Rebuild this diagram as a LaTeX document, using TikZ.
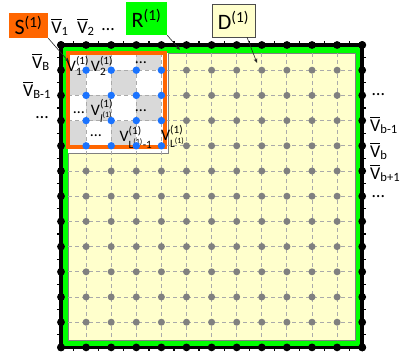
\documentclass[tikz,border=0pt]{standalone}
\usepackage{fontspec}
\usepackage{amsmath}
\setmainfont{Carlito}
\usetikzlibrary{arrows.meta,calc}
\definecolor{orangec}{HTML}{FF6600}
\definecolor{yellowfill}{HTML}{FFFFCC}
\definecolor{bluec}{HTML}{1A73FF}
\definecolor{checkgray}{HTML}{D9D9D9}
\definecolor{dotgray}{HTML}{808080}
\definecolor{dashgray}{HTML}{AAAAAA}
\definecolor{greenc}{HTML}{00FF00}
\newcommand{\Vb}[1]{$\overline{\text{V}}_{\text{#1}}$}
\newcommand{\Vs}[1]{V$^{\text{(1)}}_{#1}$}
\tikzset{
  gridline/.style={dashgray, line width=0.9pt, dash pattern=on 4pt off 3pt},
  graydot/.style={fill=dotgray},
  bluedot/.style={fill=bluec},
  blackdot/.style={fill=black},
  barlabel/.style={inner sep=0pt, font=\fontsize{18}{20}\selectfont},
  innerlabel/.style={inner sep=0pt, font=\fontsize{16}{18}\selectfont},
  boxlabel/.style={inner sep=0pt, font=\fontsize{22}{24}\selectfont},
  arr/.style={draw=black!85, line width=0.6pt, -{Stealth[length=4.5pt,width=3.5pt]}}
}
\begin{document}
\begin{tikzpicture}[x=1pt,y=-1pt]
\useasboundingbox (0,0) rectangle (403,355);
\def\gx{25.1}\def\gy{25.2}
\coordinate (TL) at (61,45);
\coordinate (BR) at (362.2,347.4);
% green band and yellow region
\fill[greenc] (TL) rectangle (BR);
\fill[yellowfill] (68,53) rectangle (355,340);
\draw[dotgray, line width=1.6pt] (355.6,54) -- (355.6,340.6) -- (69,340.6);
\draw[gray, line width=0.6pt] (68,53) rectangle (355,340);
% white region with checkerboard
\fill[white] (68,53) rectangle (168,153);
\draw[gray, line width=0.8pt] (168,53) -- (168,153) -- (68,153);
\foreach \c in {0,...,3}{
  \foreach \r in {0,...,3}{
    \pgfmathtruncatemacro\oddcell{mod(\r+\c,2)}
    \ifnum\oddcell=1
      \fill[checkgray] ({max(68,61+\c*\gx)},{max(53,45+\r*\gy)}) rectangle ({61+(\c+1)*\gx},{45+(\r+1)*\gy});
    \fi
  }
}
% dashed grid
\foreach \i in {1,...,11}{
  \draw[gridline] ({61+\i*\gx},53) -- ({61+\i*\gx},340);
  \draw[gridline] (68,{45+\i*\gy}) -- (355,{45+\i*\gy});
}
% orange square
\draw[orangec, line width=3.5pt] (68,53) rectangle (165,147);
% inner labels
\node[innerlabel] (v11) at (78,66) {\Vs{\text{1}}};
\node[innerlabel] (v21) at (102,66) {\Vs{\text{2}}};
\node[innerlabel] (d1) at (141,63) {…};
\node[innerlabel] (d2) at (79,113) {…};
\node[innerlabel] (vl) at (102,111) {\Vs{\text{\textit{l}}^{\text{(1)}}}};
\node[innerlabel] (d3) at (141,111) {…};
\node[innerlabel] (d4) at (96,136) {…};
\node[innerlabel] (vL1) at (136,137) {\Vs{\text{L}^{\text{(1)}}\text{-1}}};
\node[innerlabel] (vL) at (173,136) {\Vs{\text{L}^{\text{(1)}}}};
% gray and blue dots
\foreach \i in {1,...,11}{
  \foreach \j in {1,...,11}{
    \pgfmathtruncatemacro\inS{(\i<5)&&(\j<5)}
    \ifnum\inS=1
      \fill[bluedot] ({61+\i*\gx},{45+\j*\gy}) circle (3.7);
    \else
      \fill[graydot] ({61+\i*\gx},{45+\j*\gy}) circle (3.5);
    \fi
  }
}
% black frame
\draw[line width=3.5pt] (TL) rectangle (BR);
\foreach \k in {0,...,11}{
  \draw[line width=1.3pt] ({61+(\k+0.5)*\gx},45) -- ({61+(\k+0.5)*\gx},41);
  \draw[line width=1.3pt] ({61+(\k+0.5)*\gx},347.4) -- ({61+(\k+0.5)*\gx},351);
  \draw[line width=1.3pt] (61,{45+(\k+0.5)*\gy}) -- (57,{45+(\k+0.5)*\gy});
  \draw[line width=1.3pt] (362.2,{45+(\k+0.5)*\gy}) -- (366,{45+(\k+0.5)*\gy});
}
\foreach \k in {0,...,12}{
  \fill[blackdot] ({61+\k*\gx},45) circle (3.9);
  \fill[blackdot] ({61+\k*\gx},347.4) circle (3.9);
  \fill[blackdot] (61,{45+\k*\gy}) circle (3.9);
  \fill[blackdot] (362.2,{45+\k*\gy}) circle (3.9);
}
% boundary labels
\node[barlabel] (vb1) at (60,27) {\Vb{1}};
\node[barlabel] (vb2) at (86,27) {\Vb{2}};
\node[barlabel] (vbd) at (108,30) {…};
\node[barlabel] (vbB) at (41,62) {\Vb{B}};
\node[barlabel] (vbB1) at (37,90) {\Vb{B-1}};
\node[barlabel] (vbdl) at (42,118) {…};
\node[barlabel, anchor=west] (vbdr1) at (372,95) {…};
\node[barlabel, anchor=west] (vbbm) at (370,125) {\Vb{b-1}};
\node[barlabel, anchor=west] (vbb) at (370,151) {\Vb{b}};
\node[barlabel, anchor=west] (vbbp) at (370,173) {\Vb{b+1}};
\node[barlabel, anchor=west] (vbdr2) at (372,197) {…};
% box labels
\node[boxlabel, fill=orangec, minimum width=39pt, minimum height=25pt] (S) at (28.5,25.5) {S$^{\text{(1)}}$};
\node[boxlabel, fill=greenc, minimum width=41pt, minimum height=33pt] (R) at (146.5,18.5) {R$^{\text{(1)}}$};
\node[boxlabel, fill=yellowfill, draw=black!70, line width=0.6pt, minimum width=43pt, minimum height=33pt] (D) at (233.5,20.5) {D$^{\text{(1)}}$};
\coordinate (Sa) at (69,62);
\coordinate (Ra) at (180,50);
\coordinate (Da) at (257,63);
\draw[arr] (S.south east) -- (Sa);
\draw[arr] (R.south east) -- (Ra);
\draw[arr] ($(D.south)!0.62!(D.south east)$) -- (Da);
\end{tikzpicture}
\end{document}
